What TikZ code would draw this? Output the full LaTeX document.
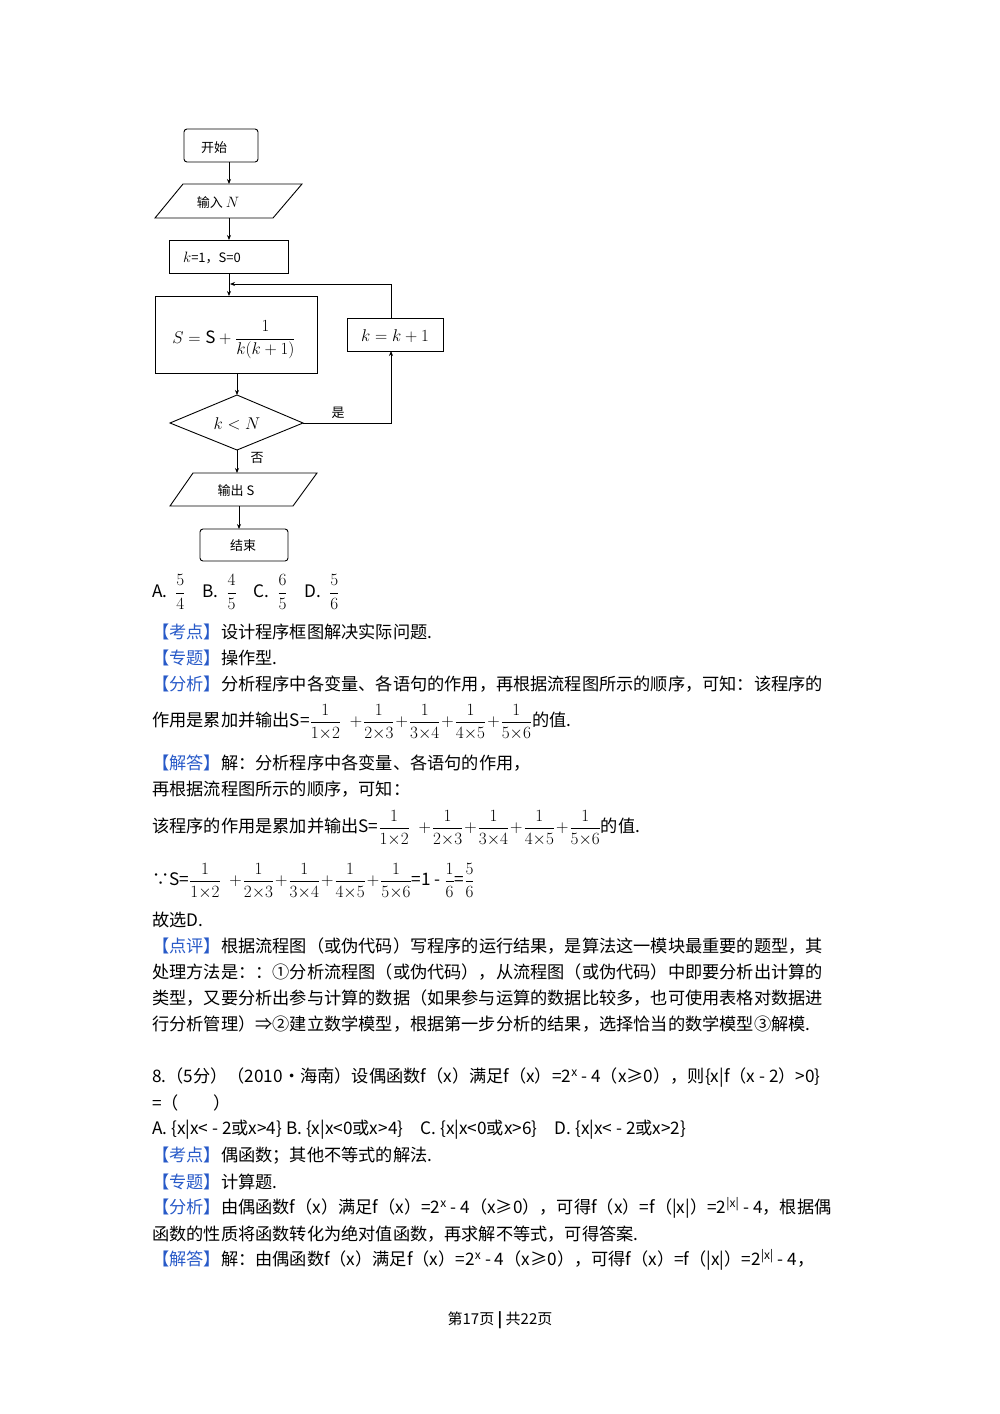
\documentclass[tikz,border=0pt]{standalone}
\usepackage{fix-cm}
\usepackage{amsmath}
\usepackage{fontspec}
\setmainfont{Noto Sans CJK SC}
\DeclareMathSizes{17.2}{17.2}{12}{9}
\DeclareMathSizes{17}{17}{12}{9}
\DeclareMathSizes{13}{15}{11}{8}
\usetikzlibrary{shapes.geometric,arrows.meta}
\definecolor{lb}{RGB}{40,90,200}
\newcommand{\lab}[1]{\textcolor{lb}{【#1】}}
\newcommand{\fr}[2]{\dfrac{\scriptstyle\phantom{|}\textstyle #1}{#2}}
\newcommand{\sumfr}{$\dfrac{1}{1{\times}2}\;+\!\dfrac{1}{2{\times}3}\!+\!\dfrac{1}{3{\times}4}\!+\!\dfrac{1}{4{\times}5}\!+\!\dfrac{1}{5{\times}6}$}
\begin{document}
\begin{tikzpicture}[x=1pt,y=-1pt,
  box/.style={draw,line width=0.9pt},
  ar/.style={-{Stealth[length=5pt,width=4pt]},line width=0.8pt},
  fc/.style={font=\fontsize{13}{15}\selectfont},
  tx/.style={anchor=west,inner sep=0pt,font=\fontsize{17.2}{20}\selectfont}]
\useasboundingbox (0,0) rectangle (1000,1414);
% flowchart
\draw[box,rounded corners=3pt] (184,129) rectangle (258,162);
\node[fc] (start) at (214,148) {开始};
\draw[box] (183,184) -- (302,184) -- (273,218) -- (155,218) -- cycle;
\node[fc] (in) at (218,203) {输入 $N$};
\draw[box] (169,240) rectangle (288,273);
\node[fc] (init) at (212,258) {$k$=1，S=0};
\draw[box] (155,296) rectangle (317,373);
\node (s) at (234,340) {\fontsize{17}{20}\selectfont $S=\mathrm{S}+\dfrac{1}{k(k+1)}$};
\draw[box] (347,318) rectangle (443,351);
\node (kk) at (395,336) {\fontsize{17}{20}\selectfont $k=k+1$};
\draw[box] (237,395) -- (303,423) -- (237,450) -- (170,423) -- cycle;
\node (d) at (237,424) {\fontsize{17}{20}\selectfont $k<N$};
\draw[box] (193,473) -- (317,473) -- (293,506) -- (170,506) -- cycle;
\node[fc] (out) at (236,491) {输出 S};
\draw[box,rounded corners=3pt] (200,529) rectangle (288,561);
\node[fc] (end) at (243,546) {结束};
\node[fc] (yes) at (338,413) {是};
\node[fc] (no) at (257,458) {否};
\coordinate (c1) at (229,162); \coordinate (c2) at (229,184);
\coordinate (c3) at (229,218); \coordinate (c4) at (229,240);
\coordinate (c5) at (229,273); \coordinate (c6) at (229,296);
\coordinate (j) at (230,284);
\draw[ar] (c1) -- (c2);
\draw[ar] (c3) -- (c4);
\draw[ar] (c5) -- (c6);
\coordinate (c7) at (237,373); \coordinate (c8) at (237,395);
\draw[ar] (c7) -- (c8);
\coordinate (c9) at (237,450); \coordinate (c10) at (237,473);
\draw[ar] (c9) -- (c10);
\coordinate (c11) at (239,506); \coordinate (c12) at (239,529);
\draw[ar] (c11) -- (c12);
\coordinate (r1) at (303,423); \coordinate (r2) at (391,351);
\draw[ar] (r1) -- (391,423) -- (r2);
\coordinate (t1) at (391,318);
\draw[ar] (t1) -- (391,284) -- (j);
% text
\node[tx] (a) at (152,592) {A.\ \ $\dfrac{5}{4}$\quad B.\ \ $\dfrac{4}{5}$\quad C.\ \ $\dfrac{6}{5}$\quad D.\ \ $\dfrac{5}{6}$};
\node[tx] at (152,632) {\lab{考点}设计程序框图解决实际问题.};
\node[tx] at (152,658) {\lab{专题}操作型.};
\node[tx] at (152,684) {\lab{分析}分析程序中各变量、各语句的作用，再根据流程图所示的顺序，可知：该程序的};
\node[tx] at (152,722) {作用是累加并输出S=\sumfr 的值.};
\node[tx] at (152,763) {\lab{解答}解：分析程序中各变量、各语句的作用，};
\node[tx] at (152,789) {再根据流程图所示的顺序，可知：};
\node[tx] at (152,828) {该程序的作用是累加并输出S=\sumfr 的值.};
\node[tx] at (152,881) {∵S=\sumfr =1 - $\dfrac{1}{6}$=$\dfrac{5}{6}$};
\node[tx] at (152,920) {故选D.};
\node[tx] at (152,946) {\lab{点评}根据流程图（或伪代码）写程序的运行结果，是算法这一模块最重要的题型，其};
\node[tx] at (152,972) {处理方法是：：①分析流程图（或伪代码），从流程图（或伪代码）中即要分析出计算的};
\node[tx] at (152,998) {类型，又要分析出参与计算的数据（如果参与运算的数据比较多，也可使用表格对数据进};
\node[tx] at (152,1024) {行分析管理）⇒②建立数学模型，根据第一步分析的结果，选择恰当的数学模型③解模.};
\node[tx] at (152,1078) {8.（5分）（2010•海南）设偶函数f（x）满足f（x）=2\textsuperscript{x} - 4（x≥0），则\{x|f（x - 2）>0\}};
\node[tx] at (152,1103) {=（\quad\quad ）};
\node[tx] at (152,1130) {A.\ \{x|x< - 2或x>4\}\ B.\ \{x|x<0或x>4\}\quad C.\ \{x|x<0或x>6\}\quad D.\ \{x|x< - 2或x>2\}};
\node[tx] at (152,1156) {\lab{考点}偶函数；其他不等式的解法.};
\node[tx] at (152,1182) {\lab{专题}计算题.};
\node[tx] at (152,1208) {\lab{分析}由偶函数f（x）满足f（x）=2\textsuperscript{x} - 4（x≥0），可得f（x）=f（|x|）=2\textsuperscript{|x|} - 4，根据偶};
\node[tx] at (152,1234) {函数的性质将函数转化为绝对值函数，再求解不等式，可得答案.};
\node[tx] at (152,1260) {\lab{解答}解：由偶函数f（x）满足f（x）=2\textsuperscript{x} - 4（x≥0），可得f（x）=f（|x|）=2\textsuperscript{|x|} - 4，};
\node[font=\fontsize{15}{18}\selectfont] (foot) at (500,1320) {第17页 \textbf{|} 共22页};
\end{tikzpicture}
\end{document}
